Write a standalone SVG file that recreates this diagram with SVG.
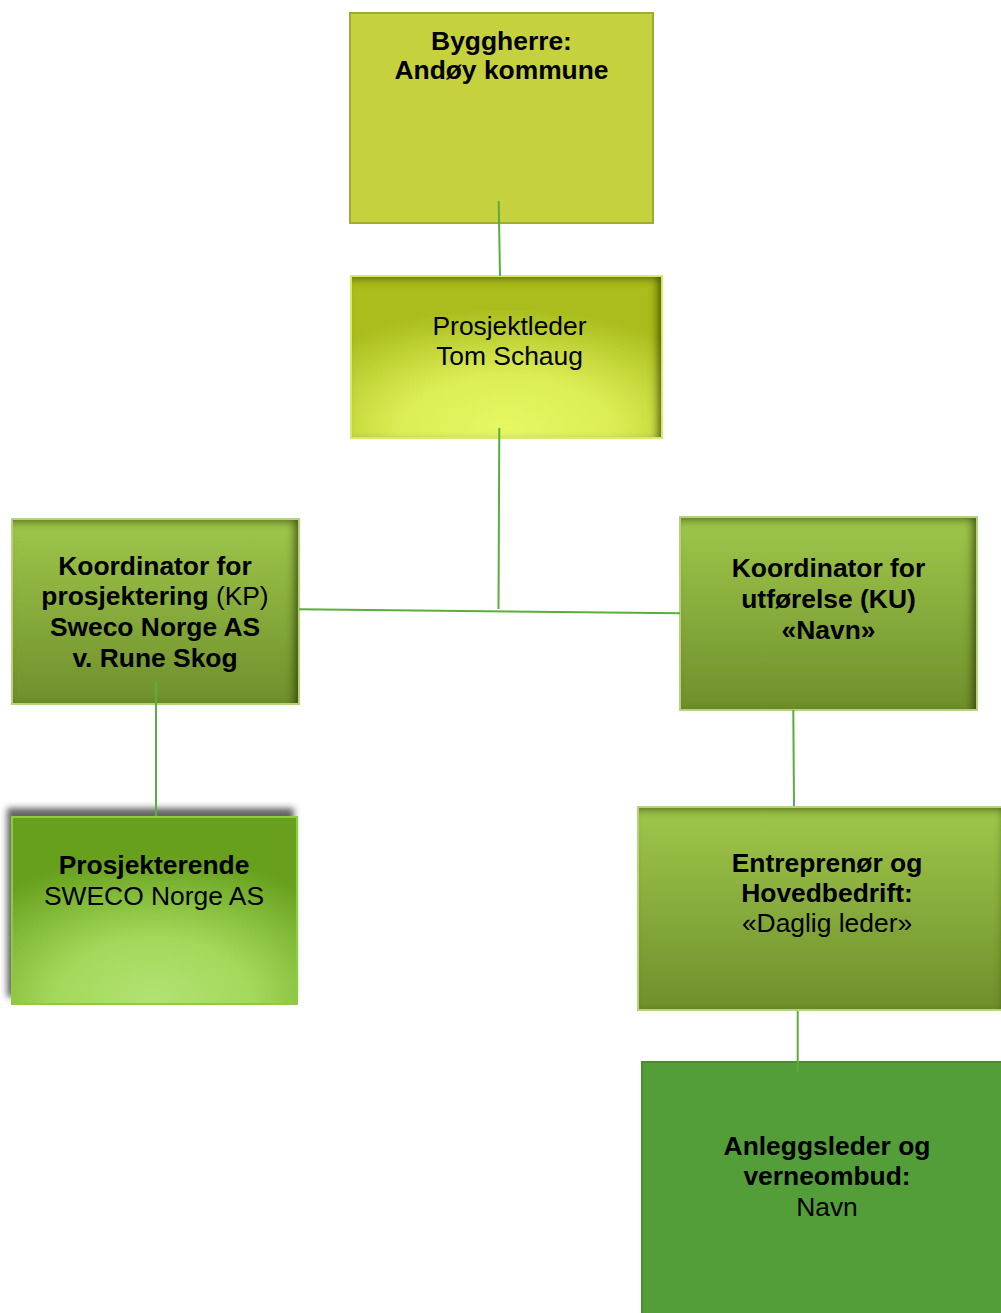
<svg xmlns="http://www.w3.org/2000/svg" width="1001" height="1313" viewBox="0 0 1001 1313">
<defs>
  <style>
    text{font-family:"Liberation Sans",Arial,sans-serif;font-size:26.4px;fill:#000;text-anchor:middle}
    .b{font-weight:bold}
    .n{font-weight:normal}
    .conn{stroke:#5aad3e;stroke-width:2;fill:none}
  </style>
  <radialGradient id="gPL" cx="0.5" cy="0.95" r="0.75" fx="0.5" fy="0.95">
    <stop offset="0" stop-color="#e6f862"/>
    <stop offset="0.45" stop-color="#dcee55"/>
    <stop offset="1" stop-color="#aabd1e"/>
  </radialGradient>
  <linearGradient id="gK" x1="0" y1="0" x2="0" y2="1">
    <stop offset="0" stop-color="#9fc74b"/>
    <stop offset="1" stop-color="#6f8f2c"/>
  </linearGradient>
  <radialGradient id="gPR" cx="0.5" cy="1" r="0.8" fx="0.5" fy="1">
    <stop offset="0" stop-color="#b3e274"/>
    <stop offset="0.45" stop-color="#a2d85a"/>
    <stop offset="1" stop-color="#66a01c"/>
  </radialGradient>
  <filter id="inner" x="-5%" y="-5%" width="110%" height="110%">
    <feComponentTransfer in="SourceAlpha"><feFuncA type="table" tableValues="1 0"/></feComponentTransfer>
    <feGaussianBlur stdDeviation="4"/>
    <feOffset dx="-5" dy="3" result="off"/>
    <feFlood flood-color="#2a3400" flood-opacity="0.9"/>
    <feComposite in2="off" operator="in"/>
    <feComposite in2="SourceAlpha" operator="in" result="sh"/>
    <feMerge><feMergeNode in="SourceGraphic"/><feMergeNode in="sh"/></feMerge>
  </filter>
  <filter id="drop" x="-10%" y="-10%" width="120%" height="120%">
    <feGaussianBlur in="SourceAlpha" stdDeviation="3"/>
    <feOffset dx="-4" dy="-8" result="o"/>
    <feFlood flood-color="#333" flood-opacity="0.75"/>
    <feComposite in2="o" operator="in"/>
    <feMerge><feMergeNode/><feMergeNode in="SourceGraphic"/></feMerge>
  </filter>
</defs>
<rect width="1001" height="1313" fill="#fff"/>

<g id="byggherre">
  <rect x="350" y="13" width="303" height="210" fill="#c5d13d" stroke="#9bad33" stroke-width="2"/>
  <text class="b" x="501.5" y="50">Byggherre:</text>
  <text class="b" x="501.5" y="79">Andøy kommune</text>
</g>

<g id="prosjektleder">
  <rect x="351" y="276" width="311" height="162" fill="url(#gPL)" filter="url(#inner)"/>
  <rect x="351" y="276" width="311" height="162" fill="none" stroke="#d6ea6c" stroke-width="2"/>
  <text x="509.5" y="335">Prosjektleder</text>
  <text x="509.5" y="365">Tom Schaug</text>
</g>

<g id="kp">
  <rect x="12" y="519" width="287" height="185" fill="url(#gK)" filter="url(#inner)"/>
  <rect x="12" y="519" width="287" height="185" fill="none" stroke="#b4d47c" stroke-width="2"/>
  <text class="b" x="155" y="574.5">Koordinator for</text>
  <text class="b" x="155" y="605.3">prosjektering <tspan class="n">(KP)</tspan></text>
  <text class="b" x="155" y="636">Sweco Norge AS</text>
  <text class="b" x="155" y="666.8">v. Rune Skog</text>
</g>

<g id="ku">
  <rect x="680" y="517" width="297" height="193" fill="url(#gK)" filter="url(#inner)"/>
  <rect x="680" y="517" width="297" height="193" fill="none" stroke="#b4d47c" stroke-width="2"/>
  <text class="b" x="828.5" y="577">Koordinator for</text>
  <text class="b" x="828.5" y="608">utførelse (KU)</text>
  <text class="b" x="828.5" y="639">«Navn»</text>
</g>

<g id="prosjekterende">
  <rect x="12" y="817" width="285" height="187" fill="url(#gPR)" stroke="#8ccc3c" stroke-width="2" filter="url(#drop)"/>
  <text class="b" x="154" y="873.5">Prosjekterende</text>
  <text x="154" y="905">SWECO Norge AS</text>
</g>

<g id="entreprenor">
  <rect x="638" y="807" width="370" height="203" fill="url(#gK)" filter="url(#inner)"/>
  <rect x="638" y="807" width="370" height="203" fill="none" stroke="#b4d47c" stroke-width="2"/>
  <text class="b" x="827" y="872">Entreprenør og</text>
  <text class="b" x="827" y="902">Hovedbedrift:</text>
  <text x="827" y="932">«Daglig leder»</text>
</g>

<g id="anleggsleder">
  <rect x="642" y="1062" width="370" height="260" fill="#539e38" stroke="#4a8a31" stroke-width="2"/>
  <text class="b" x="827" y="1155">Anleggsleder og</text>
  <text class="b" x="827" y="1185">verneombud:</text>
  <text x="827" y="1215.5">Navn</text>
</g>

<g id="connectors">
  <line class="conn" x1="498.7" y1="201" x2="500" y2="276"/>
  <line class="conn" x1="499.3" y1="428" x2="498.5" y2="609"/>
  <line class="conn" x1="299" y1="609.3" x2="680" y2="613.3"/>
  <line class="conn" x1="156" y1="681" x2="156" y2="816"/>
  <line class="conn" x1="793.3" y1="710" x2="794" y2="806"/>
  <line class="conn" x1="797.7" y1="1011" x2="797.7" y2="1072"/>
</g>
</svg>
